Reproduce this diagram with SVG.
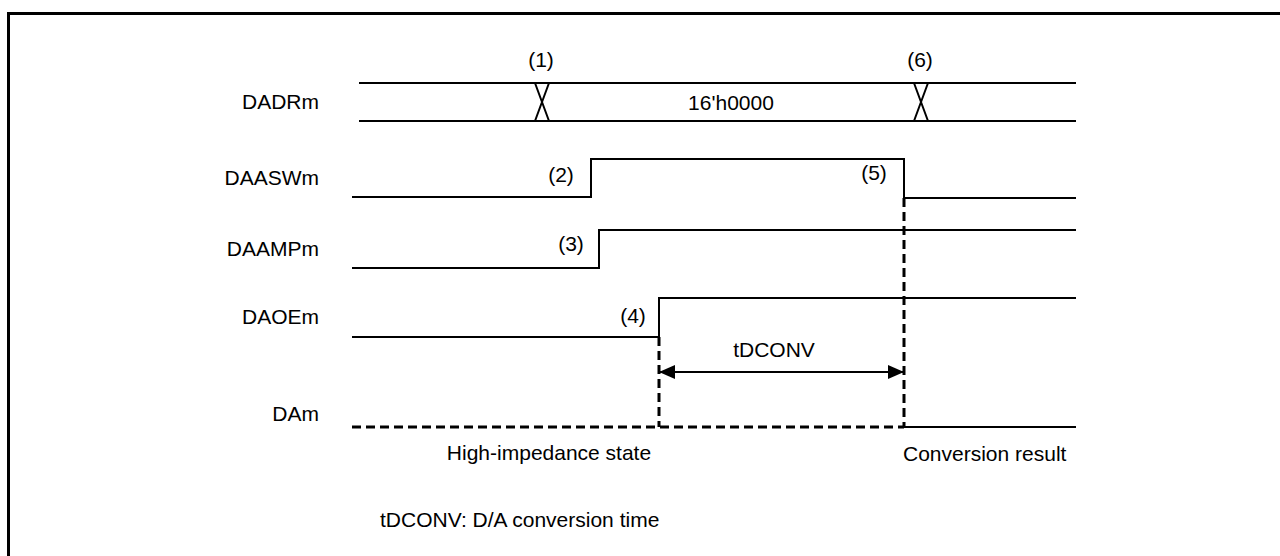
<svg xmlns="http://www.w3.org/2000/svg" width="1280" height="556" viewBox="0 0 1280 556">
<style>
text{font-family:"Liberation Sans",Arial,sans-serif;font-size:21px;fill:#000}
.lbl{text-anchor:end}
.c{text-anchor:middle}
.sig{fill:none;stroke:#000;stroke-width:2}
.dash{fill:none;stroke:#000;stroke-width:3;stroke-dasharray:9 5}
</style>
<defs>
<marker id="ah" viewBox="0 0 16 14" refX="16" refY="7" markerWidth="16" markerHeight="14" markerUnits="userSpaceOnUse" orient="auto-start-reverse">
<path d="M0,0 L16,7 L0,14 Z" fill="#000"/>
</marker>
</defs>
<rect width="1280" height="556" fill="#fff"/>
<path d="M8.5,560 V13.5 H1285" fill="none" stroke="#000" stroke-width="3"/>
<g id="DADRm">
<text class="lbl" x="319" y="109">DADRm</text>
<path class="sig" d="M359,83 H1076 M359,121 H1076 M535,83 L549,121 M549,83 L535,121 M914,83 L928,121 M928,83 L914,121"/>
<text class="c" x="541" y="67">(1)</text>
<text class="c" x="920" y="67">(6)</text>
<text class="c" x="731" y="110">16'h0000</text>
</g>
<g id="DAASWm">
<text class="lbl" x="319" y="185">DAASWm</text>
<path class="sig" d="M352,197 H591 V159 H904 V198 H1076"/>
<text class="c" x="561" y="182">(2)</text>
<text class="c" x="874" y="180">(5)</text>
</g>
<g id="DAAMPm">
<text class="lbl" x="319" y="256">DAAMPm</text>
<path class="sig" d="M352,268 H599 V230 H1076"/>
<text class="c" x="571" y="251">(3)</text>
</g>
<g id="DAOEm">
<text class="lbl" x="319" y="324">DAOEm</text>
<path class="sig" d="M352,337 H659 V298 H1076"/>
<text class="c" x="633" y="323">(4)</text>
</g>
<g id="DAm">
<text class="lbl" x="319" y="421">DAm</text>
<path class="dash" d="M352,427 H904"/>
<path class="sig" d="M904,427 H1076"/>
<text class="c" x="549" y="460">High-impedance state</text>
<text x="903" y="461">Conversion result</text>
</g>
<g id="connectors">
<path class="dash" d="M659,337 V427"/>
<path class="dash" d="M904,198 V427"/>
<path d="M659,372 H904" stroke="#000" stroke-width="2" fill="none" marker-start="url(#ah)" marker-end="url(#ah)"/>
<text class="c" x="774" y="357">tDCONV</text>
</g>
<text x="380" y="527">tDCONV: D/A conversion time</text>
</svg>
